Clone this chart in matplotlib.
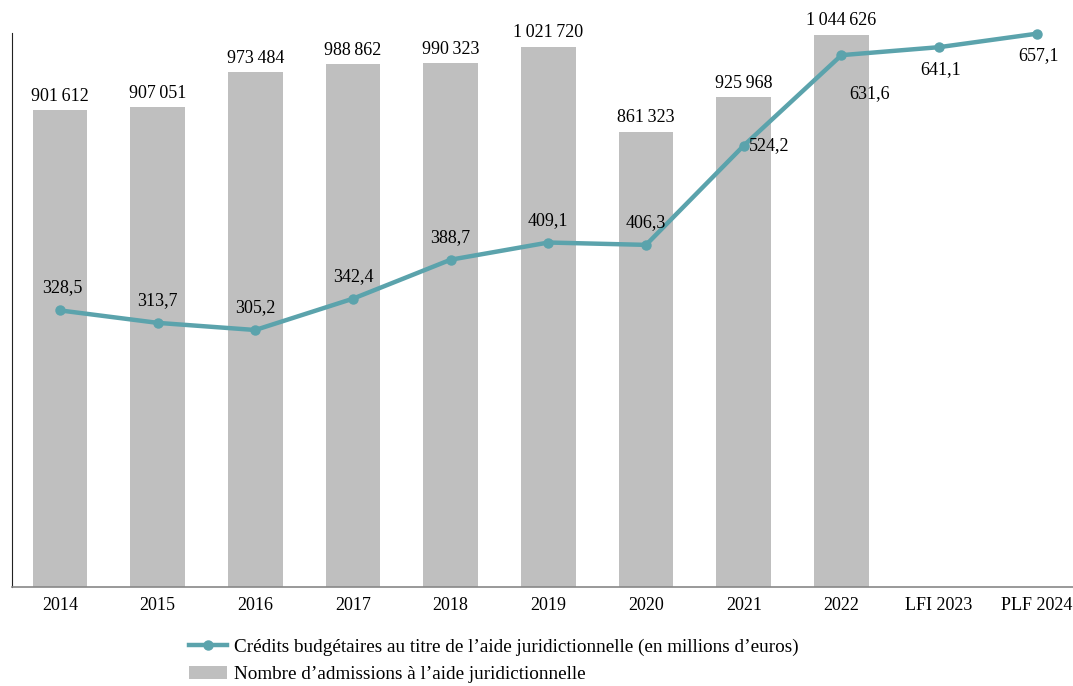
import matplotlib.pyplot as plt
import numpy as np

plt.rcParams['font.family'] = ['Liberation Serif', 'DejaVu Serif']

categories = ['2014', '2015', '2016', '2017', '2018', '2019', '2020', '2021', '2022', 'LFI 2023', 'PLF 2024']
admissions = [901612, 907051, 973484, 988862, 990323, 1021720, 861323, 925968, 1044626]
credits = [328.5, 313.7, 305.2, 342.4, 388.7, 409.1, 406.3, 524.2, 631.6, 641.1, 657.1]

BAR_COLOR = '#bfbfbf'
LINE_COLOR = '#5ba3ac'


def fmt_int(v):
    return f"{v:,}".replace(',', '\u2009')


def fmt_dec(v):
    return f"{v:.1f}".replace('.', ',')


fig = plt.figure(figsize=(10.73, 6.86), dpi=100)
ax = fig.add_axes([12 / 1073, 0.1443, 1 - 12 / 1073, 0.8077])
x = np.arange(len(categories))

bars = ax.bar(x[:len(admissions)], admissions, width=0.56, color=BAR_COLOR, zorder=2,
              label="Nombre d\u2019admissions à l\u2019aide juridictionnelle")
for xi, v in zip(x, admissions):
    ax.annotate(fmt_int(v), (xi, v), xytext=(0, 4), textcoords='offset points',
                ha='center', va='bottom', fontsize=13)

ax.set_xlim(-0.49, 10.37)
ax.set_ylim(0, 1048000)
ax.set_yticks([])
ax.set_xticks(x)
ax.set_xticklabels(categories, fontsize=13)
ax.tick_params(axis='x', length=0, pad=7)
for s in ['top', 'right']:
    ax.spines[s].set_visible(False)
ax.spines['left'].set_color('#222222')
ax.spines['bottom'].set_color('#888888')
ax.spines['bottom'].set_linewidth(1.2)

ax2 = ax.twinx()
ax2.set_ylim(0, 658)
ax2.set_yticks([])
for s in ax2.spines.values():
    s.set_visible(False)
line, = ax2.plot(x, credits, color=LINE_COLOR, lw=3.2, marker='o', ms=6.5, zorder=3, clip_on=False,
                 label="Crédits budgétaires au titre de l\u2019aide juridictionnelle (en millions d\u2019euros)")

# label offsets in points (dx, dy) relative to each point
offsets = [(2, 10), (0, 10), (0, 10), (0, 10), (0, 10), (0, 10), (0, 10),
           (18, 0), (20, -28), (1, -16), (1, -16)]
for xi, v, (dx, dy) in zip(x, credits, offsets):
    va = 'bottom' if dy > 0 else 'center'
    ax2.annotate(fmt_dec(v), (xi, v), xytext=(dx, dy), textcoords='offset points',
                 ha='center', va=va, fontsize=13)

fig.legend(handles=[line, bars], loc='upper left', bbox_to_anchor=(0.169, 0.08),
           frameon=False, fontsize=13.8, handlelength=2.0, handletextpad=0.35,
           labelspacing=0.5, borderaxespad=0)

fig.savefig('out.png', dpi=100)
